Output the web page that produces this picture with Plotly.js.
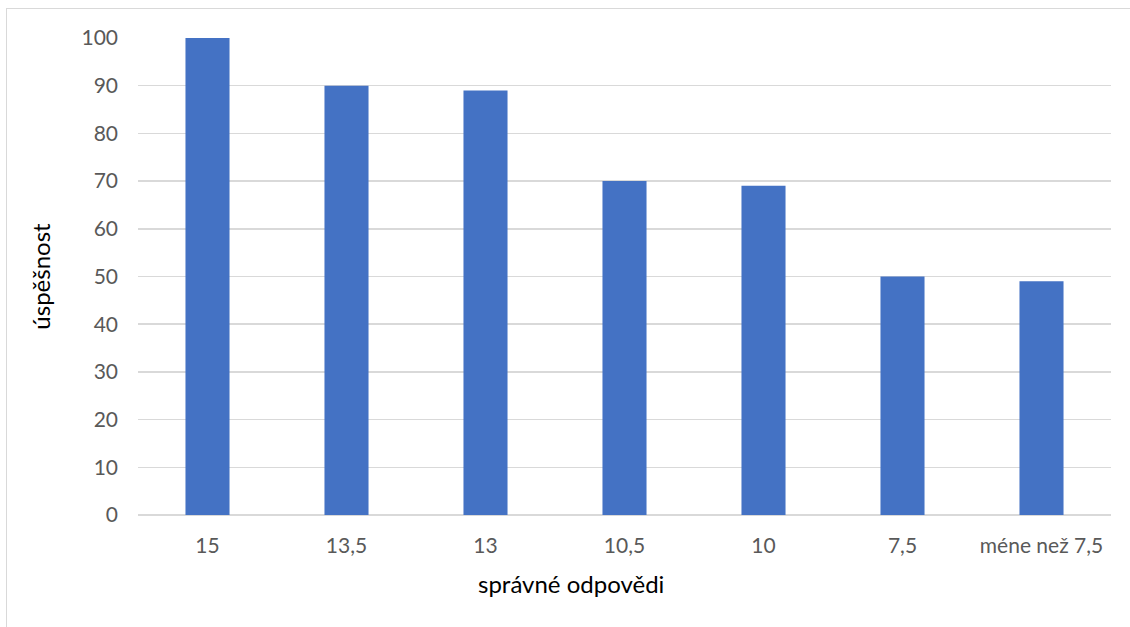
<!DOCTYPE html>
<html>
<head>
<meta charset="utf-8">
<script src="https://cdn.plot.ly/plotly-3.0.1.min.js"></script>
<style>
  html, body { margin: 0; padding: 0; background: #fff; }
  #wrap { position: relative; width: 1130px; height: 627px; overflow: hidden; }
  #chart { width: 1130px; height: 627px; }
  #frame { position: absolute; left: 6px; top: 8px; width: 1200px; height: 700px;
           border-left: 1.5px solid #d9d9d9; border-top: 1.5px solid #d9d9d9; pointer-events: none; }
</style>
</head>
<body>
<div id="wrap">
  <div id="chart"></div>
  <div id="frame"></div>
</div>
<script>
const categories = ["15", "13,5", "13", "10,5", "10", "7,5", "méne než 7,5"];
const values = [100, 90, 89, 70, 69, 50, 49];
const yTickVals = [0, 10, 20, 30, 40, 50, 60, 70, 80, 90, 100];
const xTitle = "správné odpovědi";
const yTitle = "úspěšnost";

const font = "Lato, 'Open Sans', 'Noto Sans', sans-serif";

Plotly.newPlot("chart", [{
  type: "bar",
  x: categories,
  y: values,
  marker: { color: "#4472C4" },
  hoverinfo: "x+y"
}], {
  width: 1130, height: 627,
  margin: { l: 138, r: 19, t: 38, b: 112 },
  paper_bgcolor: "#fff", plot_bgcolor: "#fff",
  bargap: 0.683,
  showlegend: false,
  font: { family: font, color: "#595959", size: 21 },
  xaxis: {
    type: "category",
    showgrid: false,
    showline: false,
    zeroline: false,
    ticks: "",
    ticklabelstandoff: 16,
    tickfont: { size: 21, color: "#595959" },
    automargin: false
  },
  yaxis: {
    range: [0, 100],
    tickvals: yTickVals,
    showgrid: true,
    gridcolor: "#d9d9d9",
    gridwidth: 1.5,
    zeroline: true,
    zerolinecolor: "#d9d9d9",
    zerolinewidth: 1.5,
    showline: false,
    ticks: "",
    ticklabelstandoff: 19,
    tickfont: { size: 21, color: "#595959" },
    title: { text: yTitle, font: { size: 24, color: "#000" }, standoff: 24 },
    automargin: false
  },
  annotations: [{
    text: xTitle,
    xref: "paper", yref: "paper",
    x: (571 - 138) / 973, y: -(583 - 515) / 477,
    xanchor: "center", yanchor: "middle",
    showarrow: false,
    font: { size: 24, color: "#000", family: font }
  }]
}, { displayModeBar: false, staticPlot: true });
</script>
</body>
</html>
